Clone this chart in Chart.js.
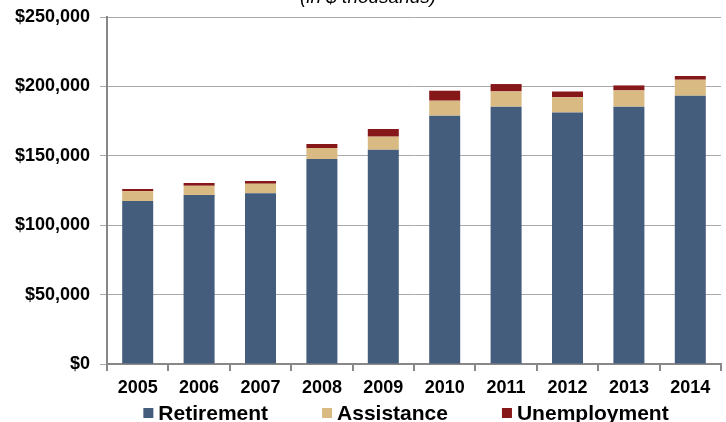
<!DOCTYPE html>
<html lang="en">
<head>
<meta charset="UTF-8">
<title>Spending by Program</title>
<script src="https://cdn.jsdelivr.net/npm/chart.js"></script>
<style>
  html, body { margin: 0; padding: 0; background: #fff; }
  #wrap { width: 726px; height: 422px; }
</style>
</head>
<body>
<div id="wrap"><canvas id="chart"></canvas></div>

<script>
  // data (in $ thousands)
  const years = ['2005', '2006', '2007', '2008', '2009', '2010', '2011', '2012', '2013', '2014'];
  const retirement = [117400, 121800, 123000, 147700, 154400, 178900, 185400, 181200, 185400, 193300];
  const assistance = [7200, 6600, 6900, 7900, 9400, 10800, 11000, 10900, 11700, 11500];
  const unemployment = [1500, 2000, 1900, 2900, 5500, 7200, 5300, 4300, 3600, 2700];
  const yTicks = [0, 50000, 100000, 150000, 200000, 250000];

  const FONT = "'Liberation Sans', Arial, sans-serif";

  // subtitle sits partly above the canvas edge in the original
  const subtitle = {
    id: 'subtitle',
    afterDraw(chart) {
      const ctx = chart.ctx;
      ctx.save();
      ctx.font = "italic 19px " + FONT;
      ctx.fillStyle = '#000';
      ctx.textAlign = 'center';
      ctx.textBaseline = 'alphabetic';
      ctx.fillText('(in $ thousands)', 368, 3);
      ctx.restore();
    }
  };

  // legend drawn by hand: wide gaps between the items
  const bottomLegend = {
    id: 'bottomLegend',
    afterDraw(chart) {
      const ctx = chart.ctx;
      const box = 10, gap = 5, spacing = 54;
      ctx.save();
      ctx.font = "bold 21px " + FONT;
      ctx.textBaseline = 'middle';
      ctx.textAlign = 'left';
      const items = chart.data.datasets.map(ds => ({
        text: ds.label, color: ds.backgroundColor, w: ctx.measureText(ds.label).width
      }));
      const total = items.reduce((s, it) => s + box + gap + it.w, 0) + spacing * (items.length - 1);
      const area = chart.chartArea;
      let x = (area.left + area.right) / 2 - 8 - total / 2;
      const y = 413;
      items.forEach(it => {
        ctx.fillStyle = it.color;
        ctx.fillRect(x, y - box / 2, box, box);
        ctx.fillStyle = '#000';
        ctx.fillText(it.text, x + box + gap, y + 1);
        x += box + gap + it.w + spacing;
      });
      ctx.restore();
    }
  };

  new Chart(document.getElementById('chart'), {
    type: 'bar',
    data: {
      labels: years,
      datasets: [
        { label: 'Retirement', data: retirement, backgroundColor: '#455d7d' },
        { label: 'Assistance', data: assistance, backgroundColor: '#d9ba82' },
        { label: 'Unemployment', data: unemployment, backgroundColor: '#86181a' }
      ]
    },
    options: {
      responsive: true,
      maintainAspectRatio: false,
      animation: false,
      layout: { padding: { top: 17, right: 5, left: 0, bottom: 26 } },
      datasets: { bar: { barPercentage: 0.505, categoryPercentage: 1 } },
      plugins: {
        tooltip: { enabled: false },
        legend: { display: false }
      },
      scales: {
        x: {
          stacked: true,
          border: { color: '#888', width: 2 },
          grid: { offset: true, drawOnChartArea: false, color: '#888', tickLength: 7, lineWidth: 2 },
          ticks: { color: '#000', padding: 6, font: { family: FONT, size: 18, weight: 'bold' } },
          afterFit(scale) { scale.height = 32; }
        },
        y: {
          stacked: true,
          min: 0,
          max: 250000,
          border: { color: '#888', width: 2 },
          grid: { color: '#aaa', tickLength: 7, lineWidth: 1 },
          afterBuildTicks(scale) { scale.ticks = yTicks.map(v => ({ value: v })); },
          ticks: {
            color: '#000',
            padding: 10,
            // small lineHeight so the top label does not push the plot down
            font: { family: FONT, size: 18, weight: 'bold', lineHeight: 0.6 },
            callback: v => '$' + v.toLocaleString('en-US')
          },
          afterFit(scale) { scale.width = 107; }
        }
      }
    },
    plugins: [subtitle, bottomLegend]
  });
</script>
</body>
</html>
